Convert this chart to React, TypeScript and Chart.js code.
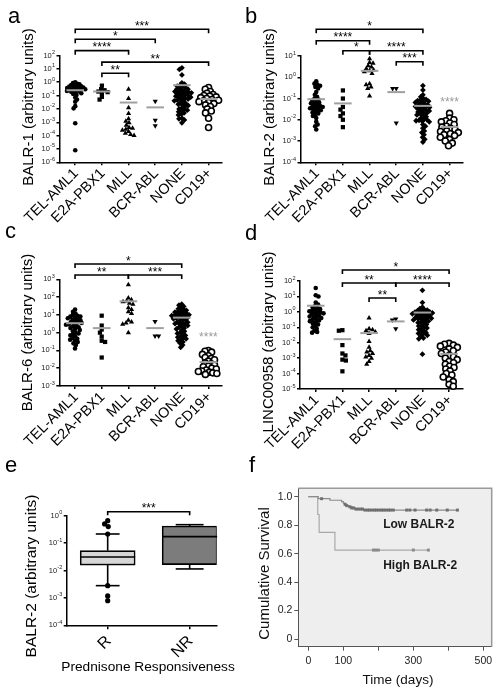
import React, { useEffect, useRef } from 'react';
import { Chart, registerables } from 'chart.js';

Chart.register(...registerables);

// choose an installed family whose widths match Arial (Prism's font)
function pickFont(): string {
  const fallback = "'Liberation Sans', Arial, sans-serif";
  try {
    const ctx = document.createElement('canvas').getContext('2d');
    if (!ctx) return fallback;
    const sample = 'Prednisone Responsiveness';
    const target = 1267;
    const cands = ['Arial', "'Liberation Sans'", 'Arimo', 'Helvetica', "'Noto Sans'", 'Roboto', 'Lato', "'DejaVu Sans'"];
    let best = "'Liberation Sans'";
    let bestErr = Infinity;
    cands.forEach((f) => {
      ctx.font = `100px ${f}, monospace`;
      const w = ctx.measureText(sample).width;
      const err = Math.abs(w - target);
      if (err < bestErr - 5) {
        bestErr = err;
        best = f;
      }
    });
    return `${best}, sans-serif`;
  } catch (e) {
    return fallback;
  }
}
const FONT = pickFont();
Chart.defaults.font.family = FONT;

// ---------------- categories ----------------
const subtypes = ['TEL-AML1', 'E2A-PBX1', 'MLL', 'BCR-ABL', 'NONE', 'CD19+'];

// ---------------- panel a : BALR-1 ----------------
const balr1Tel = [1.0, 0.85, 0.75, 0.7, 0.62, 0.55, 0.5, 0.47, 0.45, 0.42, 0.4, 0.37, 0.35, 0.33, 0.32, 0.3, 0.28, 0.27, 0.25, 0.24, 0.22, 0.2, 0.19, 0.17, 0.15, 0.13, 0.11, 0.07, 0.05, 0.034, 0.016, 0.011, 0.00085, 0.000008];
const balr1E2a = [0.55, 0.3, 0.25, 0.2, 0.18, 0.15, 0.08, 0.05];
const balr1Mll = [0.3, 0.06, 0.012, 0.0045, 0.0018, 0.0012, 0.0009, 0.0006, 0.0004, 0.00035, 0.0003, 0.00025, 0.0002, 0.00015, 0.00012, 0.0001];
const balr1Bcr = [0.038, 0.0014, 0.00054];
const balr1None = [12, 9, 3.5, 0.9, 0.7, 0.6, 0.5, 0.45, 0.4, 0.35, 0.3, 0.3, 0.25, 0.22, 0.2, 0.2, 0.18, 0.16, 0.15, 0.14, 0.12, 0.11, 0.1, 0.09, 0.08, 0.075, 0.07, 0.06, 0.055, 0.05, 0.045, 0.04, 0.035, 0.03, 0.025, 0.022, 0.02, 0.018, 0.015, 0.012, 0.01, 0.009, 0.008, 0.007, 0.006, 0.005, 0.004, 0.0035, 0.002, 0.0018, 0.0015, 0.0009];
const balr1Cd19 = [0.4, 0.3, 0.2, 0.15, 0.12, 0.1, 0.09, 0.08, 0.07, 0.06, 0.05, 0.045, 0.04, 0.035, 0.03, 0.025, 0.02, 0.015, 0.01, 0.007, 0.005, 0.002, 0.0004];
const balr1Means = [0.25, 0.2, 0.03, 0.013, 0.6, 0.055];
const balr1Brackets = [
  { from: 0, to: 5, y: 9200, label: '***' },
  { from: 0, to: 3, y: 1630, label: '*' },
  { from: 0, to: 2, y: 230, label: '****' },
  { from: 1, to: 5, y: 32, label: '**' },
  { from: 1, to: 2, y: 4.7, label: '**' },
];

// ---------------- panel b : BALR-2 ----------------
const balr2Tel = [0.65, 0.5, 0.45, 0.4, 0.35, 0.3, 0.2, 0.15, 0.12, 0.1, 0.09, 0.08, 0.07, 0.065, 0.06, 0.055, 0.05, 0.045, 0.042, 0.04, 0.038, 0.035, 0.032, 0.03, 0.028, 0.025, 0.022, 0.02, 0.018, 0.015, 0.012, 0.008, 0.006, 0.005, 0.0035];
const balr2E2a = [0.24, 0.1, 0.04, 0.03, 0.02, 0.015, 0.01, 0.0045];
const balr2Mll = [7.5, 5, 4.5, 3.5, 3, 2.5, 2.2, 2, 1.8, 1.5, 0.5, 0.45, 0.35, 0.3, 0.13];
const balr2Bcr = [0.3, 0.3, 0.007];
const balr2None = [0.4, 0.25, 0.15, 0.12, 0.1, 0.09, 0.085, 0.08, 0.075, 0.07, 0.065, 0.06, 0.055, 0.05, 0.048, 0.045, 0.042, 0.04, 0.038, 0.035, 0.032, 0.03, 0.028, 0.026, 0.025, 0.023, 0.021, 0.02, 0.018, 0.017, 0.015, 0.014, 0.012, 0.011, 0.01, 0.0095, 0.009, 0.0085, 0.008, 0.006, 0.005, 0.004, 0.003, 0.0025, 0.002, 0.0015, 0.0012, 0.0009];
const balr2Cd19 = [0.02, 0.012, 0.01, 0.009, 0.008, 0.007, 0.006, 0.005, 0.0045, 0.004, 0.0035, 0.003, 0.0028, 0.0025, 0.0022, 0.002, 0.0018, 0.0015, 0.0012, 0.001, 0.0008, 0.0006];
const balr2Means = [0.093, 0.059, 2.0, 0.2, 0.045, 0.0046];
const balr2Brackets = [
  { from: 0, to: 4, y: 180, label: '*' },
  { from: 0, to: 2, y: 52, label: '****' },
  { from: 1, to: 2, y: 17.8, label: '*' },
  { from: 2, to: 4, y: 17.8, label: '****' },
  { from: 3, to: 4, y: 5.4, label: '***' },
];
const balr2GrayStars = [{ at: 5, y: 0.095, label: '****' }];

// ---------------- panel c : BALR-6 ----------------
const balr6Tel = [20, 15, 12, 10, 9, 8, 8, 7, 6.5, 6, 5.5, 5, 4.5, 4, 3.8, 3.5, 3.2, 3, 2.8, 2.5, 2.2, 2, 1.8, 1.6, 1.4, 1.2, 1, 0.9, 0.8, 0.7, 0.6, 0.5, 0.45, 0.4, 0.35, 0.3, 0.25, 0.2, 0.13];
const balr6E2a = [9, 2.5, 1.5, 1, 0.6, 0.35, 0.3, 0.04];
const balr6Mll = [500, 90, 70, 60, 55, 45, 40, 25, 20, 15, 12, 5, 4, 3.5, 3, 1];
const balr6Bcr = [4.2, 0.65, 0.65];
const balr6None = [40, 35, 30, 25, 22, 20, 18, 16, 15, 14, 13, 12, 11, 10, 10, 9, 9, 8, 8, 7, 7, 6.5, 6, 5.5, 5, 4.5, 4, 3.8, 3.5, 3.2, 3, 2.8, 2.5, 2.2, 2, 1.8, 1.6, 1.4, 1.2, 1, 0.9, 0.8, 0.7, 0.6, 0.55, 0.5, 0.45, 0.4, 0.35, 0.3, 0.25, 0.2, 0.15];
const balr6Cd19 = [0.1, 0.09, 0.08, 0.06, 0.05, 0.04, 0.035, 0.03, 0.025, 0.02, 0.018, 0.015, 0.013, 0.012, 0.01, 0.009, 0.008, 0.007, 0.0065, 0.006, 0.0055, 0.005, 0.0045];
const balr6Means = [3.4, 1.8, 58, 1.8, 7, 0.022];
const balr6Brackets = [
  { from: 0, to: 4, y: 7200, label: '*' },
  { from: 0, to: 2, y: 1740, label: '**' },
  { from: 2, to: 4, y: 1740, label: '***' },
];
const balr6GrayStars = [{ at: 5, y: 0.8, label: '****' }];

// ---------------- panel d : LINC00958 ----------------
const lincTel = [35, 12, 10, 4, 3, 2.5, 2, 1.8, 1.5, 1.3, 1.2, 1.1, 1, 0.9, 0.85, 0.8, 0.7, 0.6, 0.55, 0.5, 0.45, 0.4, 0.35, 0.3, 0.28, 0.25, 0.2, 0.18, 0.15, 0.12, 0.1, 0.08, 0.06, 0.05, 0.045];
const lincE2a = [0.065, 0.06, 0.007, 0.002, 0.0015, 0.0008, 0.0007, 0.00014];
const lincMll = [0.4, 0.08, 0.07, 0.06, 0.05, 0.04, 0.012, 0.005, 0.003, 0.0025, 0.002, 0.0015, 0.0012, 0.001, 0.0006, 0.0004];
const lincBcr = [0.35, 0.3, 0.08];
const lincNone = [25, 4, 2, 1.6, 1.4, 1.3, 1.2, 1.1, 1, 0.95, 0.9, 0.85, 0.8, 0.75, 0.7, 0.65, 0.6, 0.55, 0.5, 0.45, 0.42, 0.4, 0.38, 0.35, 0.32, 0.3, 0.28, 0.25, 0.22, 0.2, 0.18, 0.15, 0.13, 0.12, 0.1, 0.09, 0.08, 0.07, 0.06, 0.05, 0.045, 0.04, 0.035, 0.03, 0.025, 0.02, 0.018, 0.0018];
const lincCd19 = [0.009, 0.008, 0.007, 0.006, 0.005, 0.004, 0.003, 0.0025, 0.002, 0.0015, 0.0012, 0.001, 0.0008, 0.0006, 0.0005, 0.0004, 0.0003, 0.00025, 0.0002, 0.00015, 0.0001, 0.00008, 0.00006, 0.00004, 0.00003, 0.00002, 0.000015];
const lincMeans = [2.5, 0.017, 0.042, 0.24, 0.9, 0.0019];
const lincBrackets = [
  { from: 1, to: 5, y: 515, label: '*' },
  { from: 1, to: 3, y: 74, label: '**' },
  { from: 3, to: 5, y: 74, label: '****' },
  { from: 2, to: 3, y: 7.9, label: '**' },
];

// ---------------- panel e : prednisone response box plot ----------------
const responseGroups = ['R', 'NR'];
const boxQ1 = [0.0158, 0.0164];
const boxQ3 = [0.053, 0.42];
const boxMedian = [0.031, 0.172];
const boxLow = [0.0028, 0.0114];
const boxHigh = [0.215, 0.47];
const responderDots = [0.66, 0.5, 0.4, 0.215, 0.0028, 0.00118, 0.00079];
const responseBrackets = [{ from: 0, to: 1, y: 1.4, label: '***' }];

// ---------------- panel f : Kaplan-Meier ----------------
const lowStepDays = [0, 28, 62, 95, 100, 104, 109, 116, 124, 134, 158];
const lowStepSurv = [1, 0.986, 0.975, 0.965, 0.955, 0.946, 0.937, 0.929, 0.921, 0.913, 0.906];
const lowLastDay = 426;
const lowCensorDays = [38, 105, 110, 119, 124, 129, 136, 143, 150, 155, 162, 169, 175, 182, 189, 195, 202, 209, 215, 222, 229, 235, 243, 281, 290, 305, 338, 348, 367, 397, 426];
const highStepDays = [0, 27, 31, 76];
const highStepSurv = [1, 0.875, 0.75, 0.625];
const highLastDay = 343;
const highCensorDays = [186, 192, 200, 300, 343];
const survTicks = [0, 0.2, 0.4, 0.6, 0.8, 1];
const dayTicks = [0, 100, 200, 300, 400, 500];
const dayLabels = [0, 100, 300, 500];

// ---------------- helpers ----------------
type Box = { x: number; y: number; w: number; h: number };
type Area = { left: number; top: number; right: number; bottom: number };
type Bracket = { from: number; to: number; y: number; label: string };
type TitleSpec = { text: string; x: number; y: number; size: number };

const groupStyles = [
  { pointStyle: 'circle', radius: 2.3, rotation: 0, fill: '#000', bw: 0, diam: 3.0 },
  { pointStyle: 'rect', radius: 3.0, rotation: 0, fill: '#000', bw: 0, diam: 3.6 },
  { pointStyle: 'triangle', radius: 3.0, rotation: 0, fill: '#000', bw: 0, diam: 3.6 },
  { pointStyle: 'triangle', radius: 3.0, rotation: 180, fill: '#000', bw: 0, diam: 3.6 },
  { pointStyle: 'rectRot', radius: 2.9, rotation: 0, fill: '#000', bw: 0, diam: 3.0 },
  { pointStyle: 'circle', radius: 3.0, rotation: 0, fill: '#fff', bw: 1.6, diam: 4.6 },
];
const MAX_SPREAD_PX = 10;
const TICK_LEN = 3;

function swarm(values: number[], pxPerDec: number, pxPerUnit: number, diam: number, maxSpread: number): number[] {
  const order = values.map((_, i) => i).sort((a, b) => values[b] - values[a]);
  const placed: { x: number; y: number }[] = [];
  const outPx: number[] = new Array(values.length).fill(0);
  order.forEach((idx, n) => {
    const y = Math.log10(values[idx]) * pxPerDec;
    const ivs: [number, number][] = [];
    placed.forEach((p) => {
      const dy = Math.abs(y - p.y);
      if (dy < diam) {
        const w = Math.sqrt(diam * diam - dy * dy);
        ivs.push([p.x - w, p.x + w]);
      }
    });
    const cands = [0];
    ivs.forEach(([a, b]) => cands.push(a, b));
    let best = 0;
    let bestScore = Infinity;
    const preferNeg = n % 2 === 1;
    cands.forEach((c) => {
      if (ivs.some(([a, b]) => c > a + 1e-6 && c < b - 1e-6)) return;
      const score = Math.abs(c) + ((c < 0) === preferNeg ? 0 : 0.001);
      if (score < bestScore) {
        bestScore = score;
        best = c;
      }
    });
    placed.push({ x: best, y });
    outPx[idx] = best;
  });
  const widest = Math.max(...outPx.map((v) => Math.abs(v)), 1e-9);
  const k = widest > maxSpread ? maxSpread / widest : 1;
  return outPx.map((v) => (v * k) / pxPerUnit);
}

function drawVTitle(ctx: CanvasRenderingContext2D, box: Box, t: TitleSpec, color: string) {
  ctx.save();
  ctx.translate(t.x - box.x, t.y - box.y);
  ctx.rotate(-Math.PI / 2);
  ctx.fillStyle = color;
  ctx.font = `${t.size}px ${FONT}`;
  ctx.textAlign = 'center';
  ctx.textBaseline = 'middle';
  ctx.fillText(t.text, 0, 0);
  ctx.restore();
}

function drawHTitle(ctx: CanvasRenderingContext2D, box: Box, t: TitleSpec, color: string) {
  ctx.save();
  ctx.fillStyle = color;
  ctx.font = `${t.size}px ${FONT}`;
  ctx.textAlign = 'center';
  ctx.textBaseline = 'middle';
  ctx.fillText(t.text, t.x - box.x, t.y - box.y);
  ctx.restore();
}

function drawPowLabels(ctx: CanvasRenderingContext2D, chart: any) {
  const ys = chart.scales.y;
  const right = chart.chartArea.left - TICK_LEN - 1.5;
  ctx.fillStyle = '#222';
  ctx.textAlign = 'right';
  ctx.textBaseline = 'middle';
  ys.ticks.forEach((t: any) => {
    const e = Math.round(Math.log10(t.value));
    const y = ys.getPixelForValue(t.value);
    const es = e < 0 ? '-' + String(-e) : String(e);
    ctx.font = `5.5px ${FONT}`;
    const ew = ctx.measureText(es).width;
    ctx.fillText(es, right, y - 3);
    ctx.font = `7.5px ${FONT}`;
    ctx.fillText('10', right - ew - 0.2, y);
  });
}

function drawRotLabels(ctx: CanvasRenderingContext2D, chart: any, labels: string[], size: number, dx: number, dy: number) {
  const xs = chart.scales.x;
  ctx.fillStyle = '#000';
  ctx.font = `${size}px ${FONT}`;
  labels.forEach((lab, i) => {
    const x = xs.getPixelForValue(i);
    ctx.save();
    ctx.translate(x + dx, chart.chartArea.bottom + dy);
    ctx.rotate(-Math.PI / 4);
    ctx.textAlign = 'right';
    ctx.textBaseline = 'middle';
    ctx.fillText(lab, 0, 0);
    ctx.restore();
  });
}

function drawBrackets(ctx: CanvasRenderingContext2D, chart: any, brackets: Bracket[], tick: number) {
  const xs = chart.scales.x;
  const ys = chart.scales.y;
  brackets.forEach((b) => {
    const x1 = xs.getPixelForValue(b.from);
    const x2 = xs.getPixelForValue(b.to);
    const y = ys.getPixelForValue(b.y);
    ctx.strokeStyle = '#000';
    ctx.lineWidth = 1.6;
    ctx.beginPath();
    ctx.moveTo(x1, y + tick);
    ctx.lineTo(x1, y);
    ctx.lineTo(x2, y);
    ctx.lineTo(x2, y + tick);
    ctx.stroke();
    ctx.fillStyle = '#000';
    ctx.font = `12px ${FONT}`;
    ctx.textAlign = 'center';
    ctx.textBaseline = 'alphabetic';
    ctx.fillText(b.label, (x1 + x2) / 2, y + 0.5);
  });
}

function axisCommon(color: string, width: number, tickLen: number) {
  return {
    offset: false,
    grid: { display: true, offset: false, drawOnChartArea: false, drawTicks: true, tickLength: tickLen, color, lineWidth: width },
    border: { display: true, color, width },
  };
}

// ---------------- scatter panels a–d ----------------
type ScatterSpec = {
  box: Box;
  area: Area;
  title: TitleSpec;
  yMin: number;
  yMax: number;
  values: number[][];
  means: number[];
  brackets: Bracket[];
  grayStars: { at: number; y: number; label: string }[];
};

const X_MIN = -0.59;
const X_MAX = 5.5;
const CAT_PX = 26.67;
const SPAN_PX = (X_MAX - X_MIN) * CAT_PX;

function scatterConfig(s: ScatterSpec): any {
  const pxPerDec = (s.area.bottom - s.area.top) / (Math.log10(s.yMax) - Math.log10(s.yMin));
  const pxPerUnit = (s.area.right - s.area.left) / (X_MAX - X_MIN);
  const datasets: any[] = [];
  s.means.forEach((m, i) => {
    datasets.push({
      type: 'line',
      data: [{ x: i - 0.33, y: m }, { x: i + 0.33, y: m }],
      borderColor: '#a0a0a0',
      borderWidth: 2,
      pointRadius: 0,
      order: 0,
      clip: false,
    });
  });
  s.values.forEach((vals, i) => {
    const st = groupStyles[i];
    const off = swarm(vals, pxPerDec, pxPerUnit, st.diam, MAX_SPREAD_PX);
    datasets.push({
      type: 'scatter',
      data: vals.map((v, k) => ({ x: i + off[k], y: v })),
      pointStyle: st.pointStyle,
      pointRadius: st.radius,
      pointRotation: st.rotation,
      backgroundColor: st.fill,
      borderColor: '#000',
      borderWidth: st.bw,
      order: 1,
      clip: false,
    });
  });
  const e0 = Math.round(Math.log10(s.yMin));
  const e1 = Math.round(Math.log10(s.yMax));
  const exps: number[] = [];
  for (let e = e0; e <= e1; e++) exps.push(e);

  const deco = {
    id: 'deco',
    afterDraw(chart: any) {
      const ctx = chart.ctx as CanvasRenderingContext2D;
      ctx.save();
      drawVTitle(ctx, s.box, s.title, '#000');
      drawPowLabels(ctx, chart);
      drawRotLabels(ctx, chart, subtypes, 14.5, 1, 9);
      drawBrackets(ctx, chart, s.brackets, 4);
      s.grayStars.forEach((g) => {
        const x = chart.scales.x.getPixelForValue(g.at);
        const y = chart.scales.y.getPixelForValue(g.y);
        ctx.fillStyle = '#9a9a9a';
        ctx.font = `12px ${FONT}`;
        ctx.textAlign = 'center';
        ctx.textBaseline = 'alphabetic';
        ctx.fillText(g.label, x, y + 6.8);
      });
      ctx.restore();
    },
  };

  return {
    type: 'scatter',
    data: { datasets },
    options: {
      animation: false,
      responsive: false,
      events: [],
      layout: {
        padding: { left: 0, top: s.area.top - s.box.y, right: s.box.x + s.box.w - s.area.right, bottom: 0 },
      },
      plugins: { legend: { display: false }, tooltip: { enabled: false } },
      scales: {
        x: {
          type: 'linear',
          min: X_MIN,
          max: X_MAX,
          afterBuildTicks: (sc: any) => {
            sc.ticks = subtypes.map((_, i) => ({ value: i }));
          },
          ticks: { display: false },
          ...axisCommon('#000', 1.5, TICK_LEN),
          afterFit: (sc: any) => {
            sc.height = s.box.y + s.box.h - s.area.bottom;
          },
        },
        y: {
          type: 'logarithmic',
          min: s.yMin,
          max: s.yMax,
          afterBuildTicks: (sc: any) => {
            sc.ticks = exps.map((e) => ({ value: Math.pow(10, e) }));
          },
          ticks: { display: false },
          ...axisCommon('#000', 1.5, TICK_LEN),
          afterFit: (sc: any) => {
            sc.width = s.area.left - s.box.x;
          },
        },
      },
    },
    plugins: [deco],
  };
}

// ---------------- box plot panel e ----------------
const boxSpec = {
  box: { x: 0, y: 470, w: 250, h: 225 },
  area: { left: 66.7, top: 515.7, right: 216.7, bottom: 625.3 },
  yTitle: { text: 'BALR-2 (arbitrary units)', x: 31.7, y: 576, size: 15.5 },
  xTitle: { text: 'Prednisone Responsiveness', x: 148, y: 667.5, size: 13.7 },
};
const E_XMIN = -0.5;
const E_XMAX = 1.33;

function boxConfig(): any {
  const s = boxSpec;
  const pxPerDec = (s.area.bottom - s.area.top) / 4;
  const pxPerUnit = (s.area.right - s.area.left) / (E_XMAX - E_XMIN);
  const datasets: any[] = [];
  const off = swarm(responderDots, pxPerDec, pxPerUnit, 4.5, 10);
  datasets.push({
    type: 'scatter',
    data: responderDots.map((v, k) => ({ x: off[k], y: v })),
    pointStyle: 'circle',
    pointRadius: 2.6,
    backgroundColor: '#000',
    borderWidth: 0,
    order: 0,
    clip: false,
  });
  responseGroups.forEach((_, i) => {
    const line = (pts: { x: number; y: number }[]) => ({
      type: 'line',
      data: pts,
      borderColor: '#000',
      borderWidth: 1.6,
      pointRadius: 0,
      order: 1,
      clip: false,
    });
    datasets.push(line([{ x: i - 0.335, y: boxMedian[i] }, { x: i + 0.335, y: boxMedian[i] }]));
    datasets.push(line([{ x: i, y: boxQ3[i] }, { x: i, y: boxHigh[i] }]));
    datasets.push(line([{ x: i, y: boxQ1[i] }, { x: i, y: boxLow[i] }]));
    const cap = i === 0 ? 0.145 : 0.17;
    datasets.push(line([{ x: i - cap, y: boxHigh[i] }, { x: i + cap, y: boxHigh[i] }]));
    datasets.push(line([{ x: i - cap, y: boxLow[i] }, { x: i + cap, y: boxLow[i] }]));
  });
  datasets.push({
    type: 'bar',
    data: responseGroups.map((_, i) => ({ x: i, y: [boxQ1[i], boxQ3[i]] })),
    backgroundColor: ['#d6d6d6', '#7c7c7c'],
    borderColor: '#000',
    borderWidth: 1.6,
    borderSkipped: false,
    barThickness: 55,
    grouped: false,
    order: 3,
  });

  const deco = {
    id: 'decoE',
    afterDraw(chart: any) {
      const ctx = chart.ctx as CanvasRenderingContext2D;
      ctx.save();
      drawVTitle(ctx, s.box, s.yTitle, '#000');
      drawHTitle(ctx, s.box, s.xTitle, '#000');
      drawPowLabels(ctx, chart);
      drawRotLabels(ctx, chart, responseGroups, 16, 1, 13.5);
      drawBrackets(ctx, chart, responseBrackets, 3.5);
      ctx.restore();
    },
  };

  return {
    type: 'scatter',
    data: { datasets },
    options: {
      animation: false,
      responsive: false,
      events: [],
      layout: {
        padding: { left: 0, top: s.area.top - s.box.y, right: s.box.x + s.box.w - s.area.right, bottom: 0 },
      },
      plugins: { legend: { display: false }, tooltip: { enabled: false } },
      scales: {
        x: {
          type: 'linear',
          min: E_XMIN,
          max: E_XMAX,
          afterBuildTicks: (sc: any) => {
            sc.ticks = responseGroups.map((_, i) => ({ value: i }));
          },
          ticks: { display: false },
          ...axisCommon('#000', 1.5, 4),
          afterFit: (sc: any) => {
            sc.height = s.box.y + s.box.h - s.area.bottom;
          },
        },
        y: {
          type: 'logarithmic',
          min: 1e-4,
          max: 1,
          afterBuildTicks: (sc: any) => {
            sc.ticks = [-4, -3, -2, -1, 0].map((e) => ({ value: Math.pow(10, e) }));
          },
          ticks: { display: false },
          ...axisCommon('#000', 1.5, TICK_LEN),
          afterFit: (sc: any) => {
            sc.width = s.area.left - s.box.x;
          },
        },
      },
    },
    plugins: [deco],
  };
}

// ---------------- survival panel f ----------------
const survSpec = {
  box: { x: 250, y: 470, w: 252, h: 225 },
  area: { left: 298.3, top: 488.3, right: 491.7, bottom: 646.7 },
  yTitle: { text: 'Cumulative Survival', x: 265, y: 573.5, size: 15 },
  xTitle: { text: 'Time (days)', x: 398, y: 680, size: 13.5 },
};

function survAt(days: number[], surv: number[], t: number) {
  let s = surv[0];
  days.forEach((d, i) => {
    if (d <= t) s = surv[i];
  });
  return s;
}

function survConfig(): any {
  const s = survSpec;
  const lowCurve = lowStepDays.map((d, i) => ({ x: d, y: lowStepSurv[i] }));
  lowCurve.push({ x: lowLastDay, y: lowStepSurv[lowStepSurv.length - 1] });
  const highCurve = highStepDays.map((d, i) => ({ x: d, y: highStepSurv[i] }));
  highCurve.push({ x: highLastDay, y: highStepSurv[highStepSurv.length - 1] });

  const datasets: any[] = [
    {
      type: 'scatter',
      data: lowCensorDays.map((d) => ({ x: d, y: survAt(lowStepDays, lowStepSurv, d) })),
      pointStyle: 'rect',
      pointRadius: 2.1,
      backgroundColor: '#6f6f6f',
      borderWidth: 0,
      order: 0,
      clip: false,
    },
    {
      type: 'scatter',
      data: highCensorDays.map((d) => ({ x: d, y: survAt(highStepDays, highStepSurv, d) })),
      pointStyle: 'rect',
      pointRadius: 2.1,
      backgroundColor: '#8a8a8a',
      borderWidth: 0,
      order: 0,
      clip: false,
    },
    {
      type: 'line',
      data: lowCurve,
      stepped: true,
      borderColor: '#8c8c8c',
      borderWidth: 1.2,
      pointRadius: 0,
      order: 1,
    },
    {
      type: 'line',
      data: highCurve,
      stepped: true,
      borderColor: '#a9a9a9',
      borderWidth: 1.2,
      pointRadius: 0,
      order: 1,
    },
  ];

  const deco = {
    id: 'decoF',
    beforeDraw(chart: any) {
      const { ctx, chartArea: ca } = chart;
      ctx.save();
      ctx.fillStyle = '#eeeeee';
      ctx.fillRect(ca.left, ca.top, ca.right - ca.left, ca.bottom - ca.top);
      ctx.restore();
    },
    afterDraw(chart: any) {
      const { ctx, chartArea: ca } = chart;
      ctx.save();
      ctx.strokeStyle = '#9a9a9a';
      ctx.lineWidth = 1.5;
      ctx.beginPath();
      ctx.moveTo(ca.left, ca.top);
      ctx.lineTo(ca.right, ca.top);
      ctx.lineTo(ca.right, ca.bottom);
      ctx.stroke();
      drawVTitle(ctx, s.box, s.yTitle, '#111');
      drawHTitle(ctx, s.box, s.xTitle, '#111');
      ctx.fillStyle = '#1a1a1a';
      ctx.font = `bold 12px ${FONT}`;
      ctx.textAlign = 'left';
      ctx.textBaseline = 'middle';
      const xs = chart.scales.x;
      const ys = chart.scales.y;
      ctx.fillText('Low BALR-2', xs.getPixelForValue(214), ys.getPixelForValue(0.8));
      ctx.fillText('High BALR-2', xs.getPixelForValue(214), ys.getPixelForValue(0.515));
      ctx.restore();
    },
  };

  return {
    type: 'scatter',
    data: { datasets },
    options: {
      animation: false,
      responsive: false,
      events: [],
      layout: {
        padding: { left: 0, top: s.area.top - s.box.y, right: s.box.x + s.box.w - s.area.right, bottom: 0 },
      },
      plugins: { legend: { display: false }, tooltip: { enabled: false } },
      scales: {
        x: {
          type: 'linear',
          min: -28.6,
          max: 524,
          afterBuildTicks: (sc: any) => {
            sc.ticks = dayTicks.map((v) => ({ value: v }));
          },
          ticks: {
            autoSkip: false,
            maxRotation: 0,
            color: '#222',
            font: { family: FONT, size: 10.5 },
            padding: 4.5,
            callback: (v: number) => (dayLabels.includes(v) ? String(v) : ''),
          },
          ...axisCommon('#555', 1, 4),
          afterFit: (sc: any) => {
            sc.height = s.box.y + s.box.h - s.area.bottom;
          },
        },
        y: {
          type: 'linear',
          min: -0.054,
          max: 1.059,
          afterBuildTicks: (sc: any) => {
            sc.ticks = survTicks.map((v) => ({ value: v }));
          },
          ticks: {
            color: '#222',
            font: { family: FONT, size: 10.5 },
            padding: 2,
            callback: (v: number) => (v === 0 ? '0' : v.toFixed(1)),
          },
          ...axisCommon('#555', 1, 4),
          afterFit: (sc: any) => {
            sc.width = s.area.left - s.box.x;
          },
        },
      },
    },
    plugins: [deco],
  };
}

// ---------------- panels ----------------
const panelA: ScatterSpec = {
  box: { x: 0, y: 0, w: 250, h: 240 },
  area: { left: 59.5, top: 55.5, right: 59.5 + SPAN_PX, bottom: 162.3 },
  title: { text: 'BALR-1 (arbitrary units)', x: 29, y: 107, size: 15 },
  yMin: 1e-6,
  yMax: 1e2,
  values: [balr1Tel, balr1E2a, balr1Mll, balr1Bcr, balr1None, balr1Cd19],
  means: balr1Means,
  brackets: balr1Brackets,
  grayStars: [],
};
const panelB: ScatterSpec = {
  box: { x: 250, y: 0, w: 252, h: 240 },
  area: { left: 300.5, top: 56, right: 300.5 + SPAN_PX, bottom: 162.3 },
  title: { text: 'BALR-2 (arbitrary units)', x: 270, y: 107, size: 15 },
  yMin: 1e-4,
  yMax: 1e1,
  values: [balr2Tel, balr2E2a, balr2Mll, balr2Bcr, balr2None, balr2Cd19],
  means: balr2Means,
  brackets: balr2Brackets,
  grayStars: balr2GrayStars,
};
const panelC: ScatterSpec = {
  box: { x: 0, y: 240, w: 250, h: 230 },
  area: { left: 59.3, top: 279.3, right: 59.3 + SPAN_PX, bottom: 386 },
  title: { text: 'BALR-6 (arbitrary units)', x: 28, y: 332.5, size: 15 },
  yMin: 1e-3,
  yMax: 1e3,
  values: [balr6Tel, balr6E2a, balr6Mll, balr6Bcr, balr6None, balr6Cd19],
  means: balr6Means,
  brackets: balr6Brackets,
  grayStars: balr6GrayStars,
};
const panelD: ScatterSpec = {
  box: { x: 250, y: 240, w: 252, h: 230 },
  area: { left: 300, top: 281, right: 300 + SPAN_PX, bottom: 389 },
  title: { text: 'LINC00958 (arbitrary units)', x: 269, y: 342, size: 15 },
  yMin: 1e-5,
  yMax: 1e2,
  values: [lincTel, lincE2a, lincMll, lincBcr, lincNone, lincCd19],
  means: lincMeans,
  brackets: lincBrackets,
  grayStars: [],
};

function ChartBox({ box, build }: { box: Box; build: () => any }) {
  const ref = useRef<HTMLCanvasElement>(null);
  useEffect(() => {
    const chart = new Chart(ref.current as HTMLCanvasElement, build());
    return () => chart.destroy();
  }, []);
  return (
    <div style={{ position: 'absolute', left: box.x, top: box.y, width: box.w, height: box.h }}>
      <canvas ref={ref} width={box.w} height={box.h} style={{ display: 'block', width: box.w, height: box.h }} />
    </div>
  );
}

const letters = [
  { t: 'a', x: 8, y: 4.7 },
  { t: 'b', x: 245, y: 4.7 },
  { t: 'c', x: 5, y: 220 },
  { t: 'd', x: 245, y: 222.4 },
  { t: 'e', x: 5, y: 454.4 },
  { t: 'f', x: 249, y: 454.4 },
];

export default function App() {
  return (
    <div style={{ position: 'absolute', left: 0, top: 0, width: 502, height: 695, background: '#fff', overflow: 'hidden' }}>
      <ChartBox box={panelA.box} build={() => scatterConfig(panelA)} />
      <ChartBox box={panelB.box} build={() => scatterConfig(panelB)} />
      <ChartBox box={panelC.box} build={() => scatterConfig(panelC)} />
      <ChartBox box={panelD.box} build={() => scatterConfig(panelD)} />
      <ChartBox box={boxSpec.box} build={() => boxConfig()} />
      <ChartBox box={survSpec.box} build={() => survConfig()} />
      {letters.map((l) => (
        <div
          key={l.t}
          style={{ position: 'absolute', left: l.x, top: l.y, fontFamily: FONT, fontSize: 22, lineHeight: '22px', color: '#000' }}
        >
          {l.t}
        </div>
      ))}
    </div>
  );
}
